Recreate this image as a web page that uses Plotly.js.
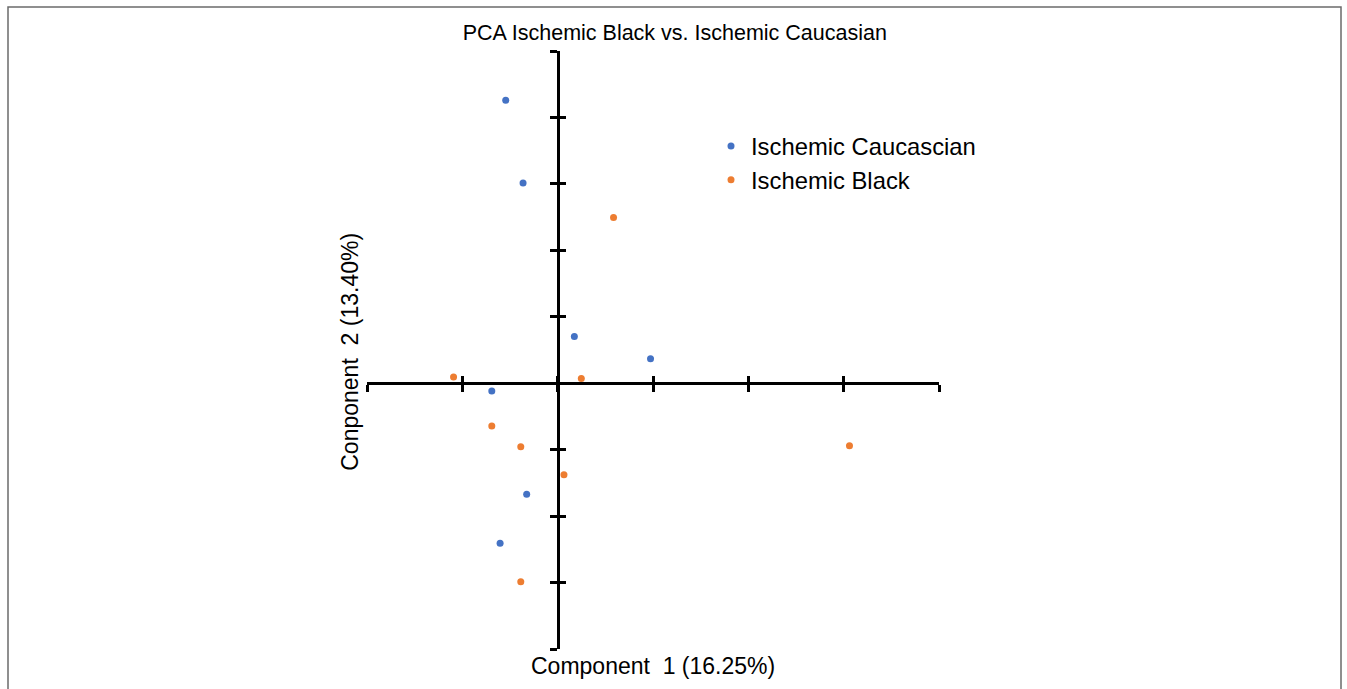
<!DOCTYPE html>
<html>
<head>
<meta charset="utf-8">
<script src="https://cdn.plot.ly/plotly-3.0.1.min.js"></script>
<style>
html,body{margin:0;padding:0;background:#fff;}
#chart{width:1347px;height:689px;}
</style>
</head>
<body>
<div id="chart"></div>
<script>
// Data
const caucasianX = [-0.545, -0.363, 0.175, 0.974, -0.691, -0.325, -0.604];
const caucasianY = [4.259, 3.015, 0.704, 0.368, -0.117, -1.672, -2.409];
const blackX = [0.586, -1.092, 0.248, -0.691, -0.387, 0.066, 3.061, -0.387];
const blackY = [2.493, 0.093, 0.072, -0.644, -0.955, -1.376, -0.940, -2.989];
const xTicks = [-2, -1, 0, 1, 2, 3, 4];
const yTicks = [-4, -3, -2, -1, 0, 1, 2, 3, 4, 5];
const seriesNames = ['Ischemic Caucascian', 'Ischemic Black'];
const chartTitle = 'PCA Ischemic Black vs. Ischemic Caucasian';
const xTitle = 'Component  1 (16.25%)';
const yTitle = 'Conponent  2 (13.40%)';

const xRange = [-2, 4];
const yRange = [-4, 5];
const xCross = (0 - yRange[0]) / (yRange[1] - yRange[0]);
const yCross = (0 - xRange[0]) / (xRange[1] - xRange[0]);

const font = 'Liberation Sans, Arial, sans-serif';

const traces = [
  {x: caucasianX, y: caucasianY, name: seriesNames[0], mode: 'markers', type: 'scatter',
   marker: {color: '#4472C4', size: 7}},
  {x: blackX, y: blackY, name: seriesNames[1], mode: 'markers', type: 'scatter',
   marker: {color: '#ED7D31', size: 7}},
  {x: [], y: [], xaxis: 'x2', yaxis: 'y', showlegend: false, hoverinfo: 'skip', type: 'scatter'},
  {x: [], y: [], xaxis: 'x', yaxis: 'y2', showlegend: false, hoverinfo: 'skip', type: 'scatter'}
];

const axCommon = {showgrid: false, zeroline: false, showticklabels: false,
  tickcolor: '#000', tickwidth: 3, ticklen: 7, fixedrange: true};

const layout = {
  width: 1347, height: 689,
  margin: {l: 367, r: 408, t: 51, b: 39.5, pad: 0},
  paper_bgcolor: '#fff', plot_bgcolor: 'rgba(0,0,0,0)',
  font: {family: font, color: '#000'},
  title: {text: chartTitle, font: {size: 21.5, family: font, color: '#000'},
    xref: 'container', yref: 'container', x: 0.501, y: 1 - 32 / 689,
    xanchor: 'center', yanchor: 'middle'},
  xaxis: Object.assign({}, axCommon, {range: xRange, tickvals: xTicks, ticks: 'outside',
    anchor: 'free', position: xCross, showline: true, linecolor: '#000', linewidth: 3}),
  xaxis2: Object.assign({}, axCommon, {range: xRange, tickvals: xTicks, ticks: 'inside',
    overlaying: 'x', anchor: 'free', position: xCross, showline: false}),
  yaxis: Object.assign({}, axCommon, {range: yRange, tickvals: yTicks, ticks: 'outside',
    anchor: 'free', position: yCross, showline: true, linecolor: '#000', linewidth: 3}),
  yaxis2: Object.assign({}, axCommon, {range: yRange, tickvals: yTicks, ticks: 'inside',
    overlaying: 'y', anchor: 'free', position: yCross, showline: false}),
  showlegend: true,
  legend: {x: (711 - 367) / 572, y: (649.5 - 124) / 598.5, xanchor: 'left', yanchor: 'top',
    bgcolor: 'rgba(0,0,0,0)', font: {size: 23.8, family: font, color: '#000'},
    itemwidth: 30, traceorder: 'normal'},
  annotations: [
    {text: xTitle, xref: 'paper', yref: 'paper', x: 0.5, y: (649.5 - 667) / 598.5,
     xanchor: 'center', yanchor: 'middle', showarrow: false, font: {size: 23, family: font, color: '#000'}},
    {text: yTitle, xref: 'paper', yref: 'paper', x: (350 - 367) / 572, y: (649.5 - 352) / 598.5,
     xanchor: 'center', yanchor: 'middle', textangle: -90, showarrow: false,
     font: {size: 23, family: font, color: '#000'}}
  ],
  shapes: [
    {type: 'rect', xref: 'paper', yref: 'paper',
     x0: (8 - 367) / 572, x1: (1341 - 367) / 572,
     y0: (649.5 - 700) / 598.5, y1: (649.5 - 7) / 598.5,
     line: {color: '#6b6b6b', width: 1.5}, fillcolor: 'rgba(0,0,0,0)', layer: 'below'}
  ]
};

Plotly.newPlot('chart', traces, layout, {displayModeBar: false, staticPlot: true});
</script>
</body>
</html>
